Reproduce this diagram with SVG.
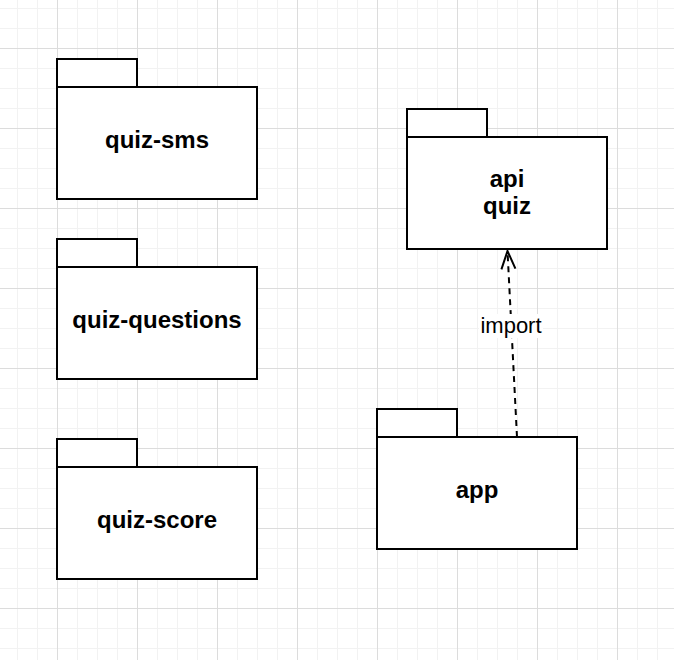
<svg xmlns="http://www.w3.org/2000/svg" width="674" height="660" viewBox="0 0 674 660">
  <defs>
    <pattern id="minor" patternUnits="userSpaceOnUse" x="17" y="8" width="20" height="20">
      <path d="M0.5 0V20M0 0.5H20" stroke="#f2f2f2" stroke-width="1" fill="none"/>
    </pattern>
    <pattern id="major" patternUnits="userSpaceOnUse" x="57" y="48" width="80" height="80">
      <path d="M0.5 0V80M0 0.5H80" stroke="#dcdcdc" stroke-width="1" fill="none"/>
    </pattern>
    <marker id="open" markerUnits="userSpaceOnUse" markerWidth="40" markerHeight="40" refX="0" refY="0" orient="auto" overflow="visible">
      <path d="M-18,-7 L0,0 L-18,7" fill="none" stroke="#000" stroke-width="2" stroke-dasharray="none"/>
    </marker>
  </defs>
  <style>
    .pkg path { fill: #fff; stroke: #000; stroke-width: 2; }
    .lbl { font-family: "Liberation Sans", Arial, Helvetica, sans-serif; font-size: 24px; font-weight: bold; text-anchor: middle; fill: #000; }
    .edge { fill: none; stroke: #000; stroke-width: 2; stroke-dasharray: 6 5; }
    .elbl { font-family: "Liberation Sans", Arial, Helvetica, sans-serif; font-size: 22px; text-anchor: middle; fill: #000; }
  </style>
  <rect width="674" height="660" fill="#fff"/>
  <rect width="674" height="660" fill="url(#minor)"/>
  <rect width="674" height="660" fill="url(#major)"/>

  <g id="quiz-sms" class="pkg" transform="translate(57,59)">
    <path d="M0,0H80V28H0Z"/>
    <path d="M0,28H200V140H0Z"/>
    <text class="lbl" x="100" y="89">quiz-sms</text>
  </g>
  <g id="quiz-questions" class="pkg" transform="translate(57,239)">
    <path d="M0,0H80V28H0Z"/>
    <path d="M0,28H200V140H0Z"/>
    <text class="lbl" x="100" y="89">quiz-questions</text>
  </g>
  <g id="quiz-score" class="pkg" transform="translate(57,439)">
    <path d="M0,0H80V28H0Z"/>
    <path d="M0,28H200V140H0Z"/>
    <text class="lbl" x="100" y="89">quiz-score</text>
  </g>
  <g id="api-quiz" class="pkg" transform="translate(407,109)">
    <path d="M0,0H80V28H0Z"/>
    <path d="M0,28H200V140H0Z"/>
    <text class="lbl" x="100" y="78">api</text>
    <text class="lbl" x="100" y="105">quiz</text>
  </g>
  <g id="app" class="pkg" transform="translate(377,409)">
    <path d="M0,0H80V28H0Z"/>
    <path d="M0,28H200V140H0Z"/>
    <text class="lbl" x="100" y="89">app</text>
  </g>

  <g id="connectors">
    <path class="edge" d="M517,437 L507.5,251" marker-end="url(#open)"/>
    <rect x="479" y="314" width="64" height="24" fill="#fff"/>
    <text class="elbl" x="511" y="333">import</text>
  </g>
</svg>
